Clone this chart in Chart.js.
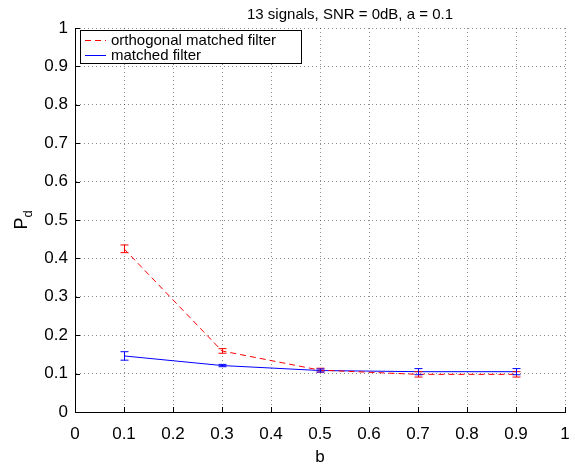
<!DOCTYPE html>
<html>
<head>
<meta charset="utf-8">
<script src="https://cdn.jsdelivr.net/npm/chart.js@4"></script>
<style>
  body { margin: 0; background: #fff; }
  #wrap { width: 575px; height: 466px; }
</style>
</head>
<body>
<div id="wrap"><canvas id="chart" width="575" height="466"></canvas></div>
<script>
// data
const bValues = [0.1, 0.3, 0.5, 0.7, 0.9];
const orthoPd = [0.425, 0.159, 0.109, 0.098, 0.098];
const orthoErr = [0.010, 0.006, 0.005, 0.007, 0.007];
const matchedPd = [0.146, 0.121, 0.108, 0.105, 0.105];
const matchedErr = [0.011, 0.003, 0.004, 0.008, 0.008];
const seriesNames = ['orthogonal matched filter', 'matched filter'];
const titleText = '13 signals, SNR = 0dB, a = 0.1';

const FONT = '"Liberation Sans", Arial, Helvetica, sans-serif';

function points(xs, ys) {
    return xs.map((x, i) => ({ x: x, y: ys[i] }));
}

// error bars, inward ticks, legend, title and y label
const matlabPlugin = {
    id: 'matlab',
    afterDatasetsDraw(chart) {
        const ctx = chart.ctx;
        const xs = chart.scales.x, ys = chart.scales.y;
        const area = chart.chartArea;

        // error bars
        chart.data.datasets.forEach((ds) => {
            ctx.save();
            ctx.strokeStyle = ds.borderColor;
            ctx.lineWidth = 1;
            ds.data.forEach((p, i) => {
                const e = ds.errors[i];
                const px = Math.round(xs.getPixelForValue(p.x)) + 0.5;
                const top = ys.getPixelForValue(p.y + e);
                const bot = ys.getPixelForValue(p.y - e);
                ctx.beginPath();
                ctx.moveTo(px, top);
                ctx.lineTo(px, bot);
                ctx.moveTo(px - 4, top);
                ctx.lineTo(px + 4, top);
                ctx.moveTo(px - 4, bot);
                ctx.lineTo(px + 4, bot);
                ctx.stroke();
            });
            ctx.restore();
        });

        // inward tick marks
        ctx.save();
        ctx.strokeStyle = '#000';
        ctx.lineWidth = 1;
        ctx.beginPath();
        xs.ticks.forEach((t) => {
            const px = Math.round(xs.getPixelForValue(t.value)) + 0.5;
            ctx.moveTo(px, area.bottom);
            ctx.lineTo(px, area.bottom - 5);
        });
        ys.ticks.forEach((t) => {
            const py = Math.round(ys.getPixelForValue(t.value)) + 0.5;
            ctx.moveTo(area.left, py);
            ctx.lineTo(area.left + 5, py);
        });
        ctx.stroke();
        ctx.restore();

        // legend box
        ctx.save();
        const lx = 80, ly = 30, lw = 221, lh = 33;
        ctx.fillStyle = '#fff';
        ctx.fillRect(lx, ly, lw, lh);
        ctx.strokeStyle = '#000';
        ctx.lineWidth = 1;
        ctx.strokeRect(lx + 0.5, ly + 0.5, lw, lh);
        ctx.font = '15px ' + FONT;
        ctx.textBaseline = 'middle';
        chart.data.datasets.forEach((ds, i) => {
            const ry = ly + 10.5 + i * 15;
            ctx.strokeStyle = ds.borderColor;
            ctx.setLineDash(ds.borderDash || []);
            ctx.beginPath();
            ctx.moveTo(lx + 5, ry);
            ctx.lineTo(lx + 26, ry);
            ctx.stroke();
            ctx.setLineDash([]);
            ctx.fillStyle = '#000';
            ctx.fillText(ds.label, lx + 31, ry);
        });
        ctx.restore();

        // title
        ctx.save();
        ctx.font = '15px ' + FONT;
        ctx.fillStyle = '#000';
        ctx.textAlign = 'center';
        ctx.textBaseline = 'alphabetic';
        ctx.fillText(titleText, 350, 19);
        ctx.restore();

        // y label P_d
        ctx.save();
        ctx.translate(27, (area.top + area.bottom) / 2);
        ctx.rotate(-Math.PI / 2);
        ctx.fillStyle = '#000';
        ctx.textBaseline = 'alphabetic';
        ctx.font = '18px ' + FONT;
        const pw = ctx.measureText('P').width;
        ctx.font = '13px ' + FONT;
        const dw = ctx.measureText('d').width;
        const sx = -(pw + dw) / 2;
        ctx.font = '18px ' + FONT;
        ctx.fillText('P', sx, 0);
        ctx.font = '13px ' + FONT;
        ctx.fillText('d', sx + pw, 5);
        ctx.restore();
    }
};

new Chart(document.getElementById('chart'), {
    type: 'line',
    data: {
        datasets: [{
            label: seriesNames[0],
            data: points(bValues, orthoPd),
            errors: orthoErr,
            borderColor: '#ff0000',
            borderWidth: 1,
            borderDash: [6, 4],
            pointRadius: 0,
            fill: false,
            tension: 0
        }, {
            label: seriesNames[1],
            data: points(bValues, matchedPd),
            errors: matchedErr,
            borderColor: '#0000ff',
            borderWidth: 1,
            pointRadius: 0,
            fill: false,
            tension: 0
        }]
    },
    options: {
        responsive: false,
        animation: false,
        layout: { padding: { top: 28, right: 10, left: 0, bottom: 0 } },
        plugins: {
            legend: { display: false },
            tooltip: { enabled: false }
        },
        scales: {
            x: {
                type: 'linear',
                min: 0,
                max: 1,
                afterFit: (s) => {
                    s.height = 54;
                    s.paddingRight = 10;
                },
                ticks: {
                    stepSize: 0.1,
                    padding: 12,
                    color: '#000',
                    font: { family: FONT, size: 17 },
                    maxRotation: 0,
                    callback: (v) => String(+v.toFixed(1))
                },
                grid: { color: 'rgba(0,0,0,0.45)', lineWidth: 1, drawTicks: false },
                border: { display: true, color: '#000', width: 1, dash: [1, 3] },
                title: {
                    display: true,
                    text: 'b',
                    color: '#000',
                    font: { family: FONT, size: 17, lineHeight: 1 },
                    padding: { top: 0, bottom: 0 }
                }
            },
            y: {
                min: 0,
                max: 1,
                afterFit: (s) => { s.width = 75; },
                ticks: {
                    stepSize: 0.1,
                    padding: 7,
                    color: '#000',
                    font: { family: FONT, size: 17 },
                    callback: (v) => String(+v.toFixed(1))
                },
                grid: { color: 'rgba(0,0,0,0.45)', lineWidth: 1, drawTicks: false },
                border: { display: true, color: '#000', width: 1, dash: [1, 3] }
            }
        }
    },
    plugins: [matlabPlugin]
});
</script>
</body>
</html>
